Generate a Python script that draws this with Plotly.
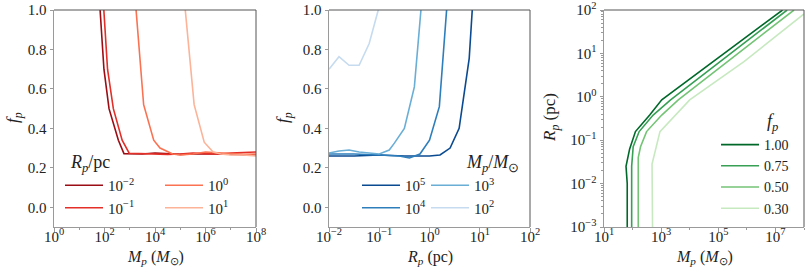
import plotly.graph_objects as go

# ---------------- data ----------------
# Panel 1: f_p vs M_p for several R_p
p1_labels = ["10<sup>−2</sup>", "10<sup>−1</sup>", "10<sup>0</sup>", "10<sup>1</sup>"]
p1_M_rm2 = [5.0e1, 6.6e1, 9.5e1, 1.51e2, 2.5e2, 3.55e2, 5.9e2, 1e3, 3.16e3, 1e4, 3.16e4, 1e5, 3.16e5, 1e6, 3.16e6, 1e7, 3.16e7, 1e8]
p1_f_rm2 = [1.25, 1.0, 0.70, 0.50, 0.40, 0.34, 0.272, 0.272, 0.270, 0.275, 0.270, 0.268, 0.270, 0.272, 0.270, 0.268, 0.265, 0.265]
p1_M_rm1 = [7.1e1, 9.5e1, 1.32e2, 2.24e2, 3.55e2, 5.0e2, 9.5e2, 3.16e3, 1e4, 3.16e4, 1e5, 3.16e5, 1e6, 3.16e6, 1e7, 3.16e7, 1e8]
p1_f_rm1 = [1.25, 1.0, 0.70, 0.50, 0.40, 0.34, 0.274, 0.272, 0.270, 0.268, 0.270, 0.275, 0.272, 0.270, 0.275, 0.278, 0.280]
p1_M_r0 = [1.41e3, 1.78e3, 3.55e3, 8.9e3, 1.58e4, 5.0e4, 1e5, 3.16e5, 1e6, 3.16e6, 1e7, 3.16e7, 1e8]
p1_f_r0 = [1.25, 1.0, 0.52, 0.34, 0.30, 0.27, 0.265, 0.270, 0.280, 0.275, 0.270, 0.268, 0.270]
p1_M_r1 = [1.26e5, 1.58e5, 3.55e5, 8.9e5, 2.0e6, 4.0e6, 1e7, 3.16e7, 1e8]
p1_f_r1 = [1.25, 1.0, 0.52, 0.33, 0.28, 0.27, 0.265, 0.265, 0.260]

# Panel 2: f_p vs R_p for several M_p
p2_labels = ["10<sup>5</sup>", "10<sup>4</sup>", "10<sup>3</sup>", "10<sup>2</sup>"]
p2_R_m5 = [1e-2, 3.16e-2, 1e-1, 3.16e-1, 1.0, 1.62, 2.57, 3.89, 6.17, 7.08, 7.94]
p2_f_m5 = [0.26, 0.26, 0.265, 0.26, 0.26, 0.265, 0.30, 0.40, 0.755, 1.0, 1.2]
p2_R_m4 = [1e-2, 3.16e-2, 1e-1, 2.51e-1, 3.98e-1, 6.46e-1, 1.0, 1.57, 2.19, 2.51]
p2_f_m4 = [0.27, 0.27, 0.265, 0.26, 0.25, 0.27, 0.34, 0.51, 1.0, 1.2]
p2_R_m3 = [1e-2, 1.58e-2, 2.51e-2, 3.98e-2, 6.31e-2, 1e-1, 1.58e-1, 2.0e-1, 3.16e-1, 5.0e-1, 6.76e-1, 7.94e-1]
p2_f_m3 = [0.275, 0.285, 0.29, 0.28, 0.275, 0.27, 0.29, 0.325, 0.40, 0.61, 1.0, 1.2]
p2_R_m2 = [1e-2, 1.58e-2, 2.51e-2, 3.98e-2, 6.31e-2, 9.55e-2, 1.12e-1]
p2_f_m2 = [0.70, 0.763, 0.72, 0.72, 0.83, 1.0, 1.2]

# Panel 3: R_p vs M_p contours of f_p
p3_labels = ["1.00", "0.75", "0.50", "0.30"]
p3_M_100 = [6.5e1, 6.5e1, 5.9e1, 7.9e1, 1.26e2, 3.98e2, 1.05e3, 1.78e7]
p3_R_100 = [1e-3, 1e-2, 2.51e-2, 6.31e-2, 1.58e-1, 3.8e-1, 8.5e-1, 1e2]
p3_M_075 = [9.3e1, 9.3e1, 1.05e2, 1.7e2, 5.25e2, 2.14e3, 2.57e7]
p3_R_075 = [1e-3, 2.51e-2, 7.08e-2, 1.58e-1, 3.8e-1, 8.5e-1, 1e2]
p3_M_050 = [1.58e2, 1.58e2, 1.9e2, 3.09e2, 1.05e3, 3.98e3, 4.47e7]
p3_R_050 = [1e-3, 3.98e-2, 7.08e-2, 1.58e-1, 3.8e-1, 8.5e-1, 1e2]
p3_M_030 = [5.0e2, 4.8e2, 9.1e2, 1e4, 7.94e5, 1e8]
p3_R_030 = [1e-3, 2.82e-2, 1.58e-1, 8.5e-1, 6.46, 8.13e1]

reds = ["#9b0d14", "#e32f27", "#fb7252", "#fcb398"]
blues = ["#0a4a90", "#2e7ebc", "#6aaed6", "#c6dbef"]
greens = ["#00692a", "#37a055", "#74c476", "#c7e9c0"]

FONT = "Liberation Serif"
W, H = 809, 276
L, R, T, B = 54, 804, 10, 227   # plot block edges in page pixels
PW, PH = R - L, B - T

fig = go.Figure()

p1_x = [p1_M_rm2, p1_M_rm1, p1_M_r0, p1_M_r1]
p1_y = [p1_f_rm2, p1_f_rm1, p1_f_r0, p1_f_r1]
p1_leg = ["legend", "legend", "legend2", "legend2"]
for i in range(4):
    fig.add_trace(go.Scatter(x=p1_x[i], y=p1_y[i], mode="lines", name=p1_labels[i],
                             line=dict(color=reds[i], width=1.6), xaxis="x", yaxis="y",
                             legend=p1_leg[i], hoverinfo="skip"))

p2_x = [p2_R_m5, p2_R_m4, p2_R_m3, p2_R_m2]
p2_y = [p2_f_m5, p2_f_m4, p2_f_m3, p2_f_m2]
p2_leg = ["legend3", "legend3", "legend4", "legend4"]
for i in range(4):
    fig.add_trace(go.Scatter(x=p2_x[i], y=p2_y[i], mode="lines", name=p2_labels[i],
                             line=dict(color=blues[i], width=1.6), xaxis="x2", yaxis="y2",
                             legend=p2_leg[i], hoverinfo="skip"))

p3_x = [p3_M_100, p3_M_075, p3_M_050, p3_M_030]
p3_y = [p3_R_100, p3_R_075, p3_R_050, p3_R_030]
for i in range(4):
    fig.add_trace(go.Scatter(x=p3_x[i], y=p3_y[i], mode="lines", name=p3_labels[i],
                             line=dict(color=greens[i], width=1.6), xaxis="x3", yaxis="y3",
                             legend="legend5", hoverinfo="skip"))

def px(a):      # page x pixel -> paper fraction
    return (a - L) / PW

def py(b):      # page y pixel -> paper fraction
    return 1 - (b - T) / PH

axcol = "#9a9a9a"
common = dict(showgrid=False, zeroline=False, showline=True, linecolor=axcol, linewidth=1,
              ticks="outside", ticklen=3.5, tickwidth=1, tickcolor=axcol, automargin=False,
              ticklabeloverflow="allow",
              tickfont=dict(family=FONT, size=15, color="#222"))
xcommon = dict(common, ticklabelstandoff=-8)

def sup(e):
    s = str(e).replace("-", "−")
    return "10<sup>" + s + "</sup>"

fig.update_layout(
    width=W, height=H,
    margin=dict(l=L, r=W - R, t=T, b=H - B, autoexpand=False),
    paper_bgcolor="white", plot_bgcolor="white",
    font=dict(family=FONT, color="#222"),
    xaxis=dict(domain=[px(54), px(256)], type="log", range=[0, 8], anchor="y",
               tickvals=[1, 1e2, 1e4, 1e6, 1e8], ticktext=[sup(e) for e in [0, 2, 4, 6, 8]],
               minor=dict(tickvals=[1e1, 1e3, 1e5, 1e7], ticks="outside", ticklen=2, tickcolor=axcol),
               **xcommon),
    yaxis=dict(domain=[0, 1], range=[-0.1, 1.0], anchor="x",
               tickvals=[0, 0.2, 0.4, 0.6, 0.8, 1.0], ticktext=["0.0", "0.2", "0.4", "0.6", "0.8", "1.0"],
               **common),
    xaxis2=dict(domain=[px(329), px(530)], type="log", range=[-2, 2], anchor="y2",
                tickvals=[1e-2, 1e-1, 1, 1e1, 1e2], ticktext=[sup(e) for e in [-2, -1, 0, 1, 2]],
                **xcommon),
    yaxis2=dict(domain=[0, 1], range=[-0.1, 1.0], anchor="x2",
                tickvals=[0, 0.2, 0.4, 0.6, 0.8, 1.0], ticktext=["0.0", "0.2", "0.4", "0.6", "0.8", "1.0"],
                **common),
    xaxis3=dict(domain=[px(604), px(804)], type="log", range=[1, 8], anchor="y3",
                tickvals=[1e1, 1e3, 1e5, 1e7], ticktext=[sup(e) for e in [1, 3, 5, 7]],
                minor=dict(tickvals=[1e2, 1e4, 1e6, 1e8], ticks="outside", ticklen=2, tickcolor=axcol),
                **xcommon),
    yaxis3=dict(domain=[0, 1], type="log", range=[-3, 2], anchor="x3",
                tickvals=[1e-3, 1e-2, 1e-1, 1, 1e1, 1e2], ticktext=[sup(e) for e in [-3, -2, -1, 0, 1, 2]],
                minor=dict(tickvals=[m * 10.0 ** d for d in range(-3, 2) for m in range(2, 10)],
                           ticks="outside", ticklen=2, tickcolor=axcol),
                **common),
)

# top / right spines (paper refs so they are not clipped)
for a, b in [(54, 256), (329, 530), (604, 804)]:
    fig.add_shape(type="line", xref="paper", yref="paper", x0=px(a), x1=px(b), y0=1, y1=1,
                  line=dict(color="#555", width=1))
    fig.add_shape(type="line", xref="paper", yref="paper", x0=px(b), x1=px(b), y0=0, y1=1,
                  line=dict(color="#555", width=1))

def leg(x, y, fs=15):
    return dict(x=px(x), y=py(y), xanchor="left", yanchor="top", xref="paper", yref="paper",
                bgcolor="rgba(0,0,0,0)", font=dict(family=FONT, size=fs, color="#222"),
                tracegroupgap=0, itemwidth=38, orientation="v", borderwidth=0)

fig.update_layout(legend=leg(60, 169), legend2=leg(160, 169), legend3=leg(357, 169),
                  legend4=leg(426, 169), legend5=leg(716, 129, 14))

def note(text, x, y, size=18, xanchor="center", angle=0):
    fig.add_annotation(text=text, x=px(x), y=py(y), xref="paper", yref="paper",
                       xanchor=xanchor, yanchor="middle", showarrow=False, textangle=angle,
                       font=dict(family=FONT, size=size, color="#222"))

# legend titles
note("<i>R</i><sub><i>p</i></sub>/pc", 68, 163, xanchor="left")
note("<i>M</i><sub><i>p</i></sub>/<i>M</i><sub>⊙</sub>", 521, 163, xanchor="right")
note("<i>f</i><sub><i>p</i></sub>", 772, 122)
# axis titles
note("<i>M</i><sub><i>p</i></sub> (<i>M</i><sub>⊙</sub>)", 155, 257, size=16)
note("<i>R</i><sub><i>p</i></sub> (pc)", 430, 257, size=16)
note("<i>M</i><sub><i>p</i></sub> (<i>M</i><sub>⊙</sub>)", 704, 257, size=16)
note("<i>f</i><sub><i>p</i></sub>", 14, 118, size=17, angle=-90)
note("<i>f</i><sub><i>p</i></sub>", 284, 118, size=17, angle=-90)
note("<i>R</i><sub><i>p</i></sub> (pc)", 551, 118, size=17, angle=-90)

fig.write_html("out.html", config={"displayModeBar": False},
               post_script="document.body.style.margin='0px';")
